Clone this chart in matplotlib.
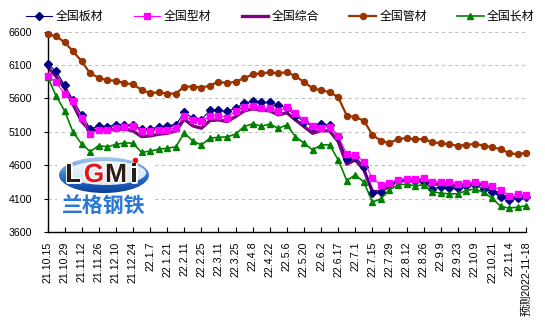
import numpy as np
import matplotlib.pyplot as plt
from matplotlib.patches import Ellipse, Rectangle
import matplotlib.patheffects as pe

plt.rcParams['font.family'] = ['Liberation Sans', 'Noto Sans CJK SC']

# tick labels, one every two weeks
dates = ['21.10.15', '21.10.29', '21.11.12', '21.11.26', '21.12.10', '21.12.24',
         '22.1.7', '22.1.21', '22.2.11', '22.2.25', '22.3.11', '22.3.25', '22.4.8',
         '22.4.22', '22.5.6', '22.5.20', '22.6.2', '22.6.17', '22.7.1', '22.7.15',
         '22.7.29', '22.8.12', '22.8.26', '22.9.9', '22.9.23', '22.10.9', '22.10.21',
         '22.11.4', '预测2022-11-18']

# weekly price index, yuan/ton
plate = [6115, 6010, 5800, 5570, 5355, 5145, 5185, 5180, 5205, 5210,
         5200, 5140, 5145, 5170, 5195, 5205, 5390, 5305, 5280, 5425,
         5425, 5405, 5455, 5530, 5560, 5540, 5540, 5500, 5455, 5340,
         5255, 5180, 5220, 5200, 5020, 4700, 4730, 4580, 4180, 4195,
         4300, 4370, 4385, 4370, 4345, 4250, 4270, 4260, 4260, 4295,
         4305, 4245, 4205, 4120, 4080, 4110, 4125]
section = [5940, 5840, 5670, 5555, 5300, 5068, 5135, 5125, 5155, 5175,
           5190, 5117, 5117, 5125, 5135, 5160, 5342, 5270, 5258, 5340,
           5344, 5314, 5414, 5469, 5494, 5454, 5454, 5414, 5469, 5380,
           5280, 5195, 5165, 5180, 5040, 4765, 4755, 4655, 4406, 4306,
           4330, 4381, 4396, 4394, 4406, 4350, 4356, 4350, 4325, 4331,
           4350, 4325, 4285, 4231, 4142, 4172, 4157]
composite = [6075, 5930, 5755, 5510, 5255, 5115, 5130, 5130, 5140, 5144,
             5114, 5029, 5039, 5064, 5079, 5114, 5289, 5189, 5154, 5269,
             5279, 5254, 5329, 5414, 5444, 5429, 5414, 5354, 5385, 5279,
             5179, 5079, 5119, 5114, 4955, 4615, 4680, 4531, 4206, 4206,
             4291, 4366, 4381, 4378, 4366, 4316, 4316, 4306, 4296, 4316,
             4331, 4306, 4231, 4157, 4107, 4117, 4132]
pipe = [6560, 6535, 6440, 6305, 6155, 5975, 5912, 5870, 5868, 5830,
        5813, 5728, 5680, 5693, 5673, 5673, 5778, 5778, 5763, 5793,
        5852, 5828, 5852, 5902, 5962, 5977, 5990, 5977, 5995, 5932,
        5848, 5753, 5723, 5695, 5618, 5344, 5319, 5269, 5055, 4965,
        4930, 4995, 5005, 4990, 4990, 4945, 4930, 4915, 4890, 4905,
        4920, 4895, 4870, 4840, 4780, 4765, 4790]
long_steel = [5927, 5640, 5415, 5092, 4918, 4805, 4895, 4875, 4912, 4935,
              4930, 4792, 4812, 4840, 4855, 4875, 5085, 4960, 4905, 5005,
              5018, 5025, 5067, 5180, 5220, 5185, 5215, 5154, 5204, 5029,
              4930, 4830, 4905, 4905, 4680, 4371, 4456, 4350, 4047, 4097,
              4231, 4306, 4316, 4291, 4306, 4206, 4181, 4172, 4172, 4221,
              4246, 4192, 4107, 3983, 3958, 3973, 3993]

x = np.arange(len(plate))

W, H = 545, 331
fig = plt.figure(figsize=(W / 100, H / 100), dpi=100)
ax = fig.add_axes([47.5 / W, 1 - 232 / H, (526.3 - 47.5) / W, (232 - 31.7) / H])

ax.plot(x, composite, color='#800080', lw=2.4, zorder=2, clip_on=False, label='全国综合')
ax.plot(x, plate, color='#000080', lw=0.8, marker='D', ms=4, zorder=3, clip_on=False, label='全国板材')
ax.plot(x, section, color='#FF00FF', lw=0.8, marker='s', ms=4.8, zorder=4, clip_on=False, label='全国型材')
ax.plot(x, pipe, color='#993300', lw=1.6, marker='o', ms=4.3, zorder=3, clip_on=False, label='全国管材')
ax.plot(x, long_steel, color='#008000', lw=1.2, marker='^', ms=4.8, zorder=3, clip_on=False, label='全国长材')

ax.set_xlim(0, len(x) - 1)
ax.set_ylim(3600, 6600)
ax.set_yticks(range(3600, 6601, 500))
ax.set_xticks(x[::2])
ax.set_xticklabels(dates, rotation=90, va='top', ha='center', fontsize=7.7)
ax.tick_params(axis='x', direction='in', length=3.5, width=0.8, pad=7)
ax.tick_params(axis='y', direction='out', length=3, width=0.8, pad=8, labelsize=7.7)
ax.yaxis.grid(True, linestyle=(0, (3, 3)), color='#c0c0c0', lw=0.8)
ax.set_axisbelow(True)
for side in ['top', 'right']:
    ax.spines[side].set_visible(False)
for side in ['left', 'bottom']:
    ax.spines[side].set_color('black')
    ax.spines[side].set_linewidth(1)

# legend across the top
handles, labels = ax.get_legend_handles_labels()
order = [1, 2, 0, 3, 4]
fig.legend([handles[i] for i in order], [labels[i] for i in order],
           loc='center left', bbox_to_anchor=(26 / W, 1 - 17 / H), ncol=5,
           frameon=False, fontsize=8.6, borderpad=0, borderaxespad=0,
           handlelength=2.2, handletextpad=0.3, columnspacing=2.55)

# LGMi logo, drawn in pixel units of its own box
lax = fig.add_axes([57 / W, 1 - 218 / H, 96 / W, 62 / H])
lax.set_xlim(0, 96)
lax.set_ylim(0, 62)
lax.axis('off')
lax.add_patch(Rectangle((0, 0), 96, 62, color='white', zorder=0))
ell = Ellipse((47, 43), 90, 36, facecolor='none', edgecolor='none')
lax.add_patch(ell)
grad = np.linspace(0, 1, 64).reshape(-1, 1)
img = lax.imshow(grad, extent=(2, 92, 25, 61), origin='lower', aspect='auto',
                 cmap=plt.matplotlib.colors.LinearSegmentedColormap.from_list(
                     'logo', ['#0d3f9a', '#2f78cf', '#a9cdf0']), zorder=1)
img.set_clip_path(ell)
lax.add_patch(Ellipse((49, 45), 80, 24, facecolor='white', edgecolor='none', alpha=0.85, zorder=2))
stroke = [pe.withStroke(linewidth=2, foreground='white')]
for ch, cx, col in [('L', 16, '#2b1d14'), ('G', 37, '#e0161b'), ('M', 59, '#2b1d14'), ('i', 77, '#2b1d14')]:
    lax.text(cx, 43, ch, fontsize=19, fontweight='bold', color=col, ha='center', va='center',
             family='Liberation Sans', path_effects=stroke, zorder=3)
lax.plot([78], [58], marker='o', ms=3, color='#e0161b', zorder=4)
lax.text(47, 12, '兰格钢铁', fontsize=15, fontweight='bold', color='#2a78d6', ha='center',
         va='center', family='Noto Sans CJK SC', zorder=3)

fig.savefig('out.png', dpi=100)
